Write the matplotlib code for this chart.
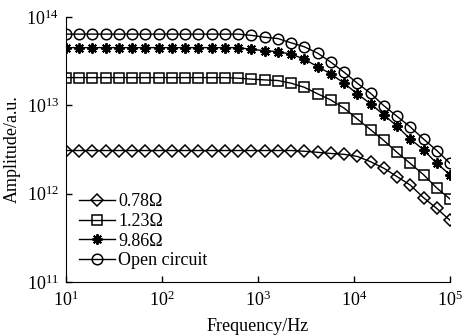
import numpy as np
import matplotlib
matplotlib.use('Agg')
import matplotlib.pyplot as plt

plt.rcParams['font.family'] = ['Liberation Serif', 'DejaVu Serif']
plt.rcParams['mathtext.fontset'] = 'stix'

# Data (30 log-spaced frequencies, 10 Hz .. 100 kHz)
freq = np.logspace(1, 5, 30)

amp_078 = [3.08e12] * 18 + [3.02e12, 2.94e12, 2.85e12, 2.79e12, 2.64e12, 2.30e12,
                            1.94e12, 1.56e12, 1.25e12, 9.0e11, 6.8e11, 5.0e11]
amp_123 = [2.06e13] * 13 + [2.03e13, 1.98e13, 1.94e13, 1.91e13, 1.78e13, 1.60e13,
                            1.35e13, 1.15e13, 9.3e12, 7.0e12, 5.3e12, 4.0e12,
                            2.93e12, 2.2e12, 1.64e12, 1.16e12, 8.7e11]
amp_986 = [4.5e13] * 14 + [4.3e13, 4.16e13, 4.05e13, 3.8e13, 3.33e13, 2.74e13,
                           2.27e13, 1.78e13, 1.35e13, 1.04e13, 7.8e12, 5.8e12,
                           4.15e12, 3.14e12, 2.2e12, 1.64e12]
amp_open = [6.4e13] * 14 + [6.2e13, 5.9e13, 5.7e13, 5.1e13, 4.6e13, 3.9e13,
                            3.08e13, 2.37e13, 1.78e13, 1.37e13, 9.9e12, 7.5e12,
                            5.7e12, 4.15e12, 3.08e12, 2.2e12]

labels = ['0.78Ω', '1.23Ω', '9.86Ω', 'Open circuit']
markers = ['D', 's', (8, 2, 0), 'o']
sizes = [6.5, 6.8, 7.5, 7.6]
edges = [1.1, 1.1, 1.4, 1.1]

fig = plt.figure(figsize=(4.66, 3.36), dpi=100)
ax = fig.add_axes([0.1416, 0.1607, 0.8241, 0.7887])

for y, lab, m, ms, ew in zip([amp_078, amp_123, amp_986, amp_open], labels, markers, sizes, edges):
    ax.plot(freq, y, color='black', linewidth=1.0, marker=m, markersize=ms,
            markerfacecolor='none', markeredgecolor='black', markeredgewidth=ew,
            label=lab)

ax.set_xscale('log')
ax.set_yscale('log')
ax.set_xlim(10, 1e5)
ax.set_ylim(1e11, 1e14)
ax.minorticks_off()
ax.set_xticks([1e1, 1e2, 1e3, 1e4, 1e5])
ax.set_yticks([1e11, 1e12, 1e13, 1e14])
ax.tick_params(direction='in', length=4, width=1, labelsize=13)
ax.tick_params(axis='x', pad=6)
ax.tick_params(axis='y', pad=5)
ax.spines['top'].set_visible(False)
ax.spines['right'].set_visible(False)

ax.set_xlabel('Frequency/Hz', fontsize=13, labelpad=6)
ax.set_ylabel('Amplitude/a.u.', fontsize=13)

ax.legend(loc='lower left', frameon=False, fontsize=13, handlelength=2.0,
          handletextpad=0.2, labelspacing=0.15, borderaxespad=0.3)

fig.savefig('out.png', dpi=100)
